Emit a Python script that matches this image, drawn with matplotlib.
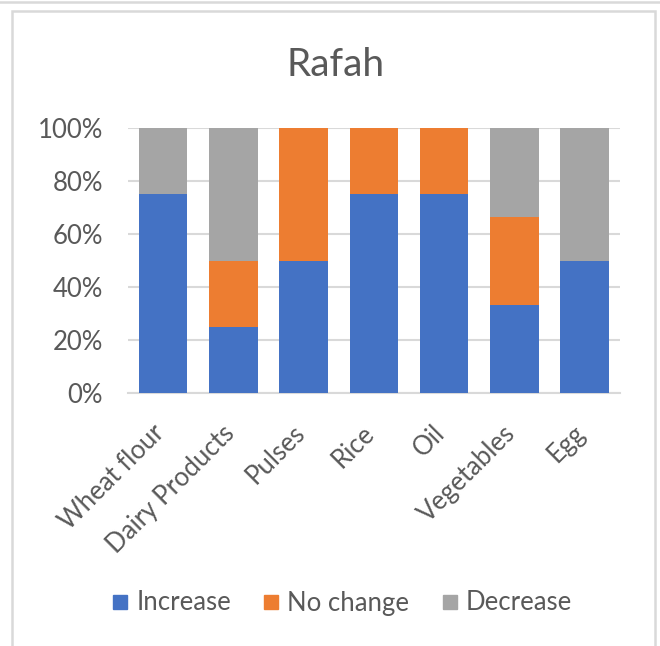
import matplotlib.pyplot as plt
import numpy as np
from matplotlib.patches import Rectangle
from matplotlib.lines import Line2D
from matplotlib.transforms import ScaledTranslation

# Data (percent of responses)
categories = ['Wheat flour', 'Dairy Products', 'Pulses', 'Rice', 'Oil', 'Vegetables', 'Egg']
increase = [75, 25, 50, 75, 75, 33.3, 50]
no_change = [0, 25, 50, 25, 25, 33.3, 0]
decrease = [25, 50, 0, 0, 0, 33.4, 50]

series_names = ['Increase', 'No change', 'Decrease']
colors = ['#4472C4', '#ED7D31', '#A5A5A5']
text_color = '#595959'
grid_color = '#D9D9D9'

plt.rcParams['font.family'] = ['Lato', 'DejaVu Sans']

fig = plt.figure(figsize=(6.6, 6.46), dpi=100)
ax = fig.add_axes([0.194, 0.3916, 0.745, 0.4102])

x = np.arange(len(categories))
width = 0.69
bottom = np.zeros(len(categories))
for vals, name, col in zip([increase, no_change, decrease], series_names, colors):
    ax.bar(x, vals, width, bottom=bottom, color=col, label=name, zorder=3)
    bottom += np.array(vals)

ax.set_xlim(-0.5, len(categories) - 0.5)
ax.set_ylim(0, 100)
ax.set_yticks(range(0, 101, 20))
ax.set_yticklabels([f'{v}%' for v in range(0, 101, 20)])
ax.yaxis.grid(True, color=grid_color, linewidth=1.5, zorder=0)
ax.tick_params(axis='y', length=0, pad=18, labelsize=18.5, labelcolor=text_color)
ax.tick_params(axis='x', length=0, pad=26)
ax.set_xticks(x)
ax.set_xticklabels(categories, rotation=45, ha='right', va='center', rotation_mode='anchor',
                   fontsize=18.5, color=text_color)
shift = ScaledTranslation(-3 / 100, 0, fig.dpi_scale_trans)
for lab in ax.get_xticklabels():
    lab.set_transform(lab.get_transform() + shift)
for side in ['top', 'right', 'left']:
    ax.spines[side].set_visible(False)
ax.spines['bottom'].set_color(grid_color)
ax.spines['bottom'].set_linewidth(1.5)

fig.text(336 / 660, 1 - 65 / 646, 'Rafah', ha='center', va='center', fontsize=28, color=text_color)

handles = [Line2D([0], [0], marker='s', linestyle='none', markersize=10,
                  markerfacecolor=c, markeredgecolor=c) for c in colors]
fig.legend(handles, series_names, loc='center', bbox_to_anchor=(341 / 660, 1 - 603 / 646),
           ncol=3, frameon=False, fontsize=18.5, labelcolor=text_color,
           handletextpad=0.23, columnspacing=1.17, handlelength=0.8)

# chart frame
fig.add_artist(Rectangle((12 / 660, -0.05), (655 - 12) / 660, 1.05 - 11 / 646,
                         transform=fig.transFigure, fill=False,
                         edgecolor=grid_color, linewidth=1.8))
fig.add_artist(Line2D([0, 1], [1 - 1.5 / 646, 1 - 1.5 / 646], transform=fig.transFigure,
                      color=grid_color, linewidth=1.8))

fig.savefig('out.png', dpi=100)
